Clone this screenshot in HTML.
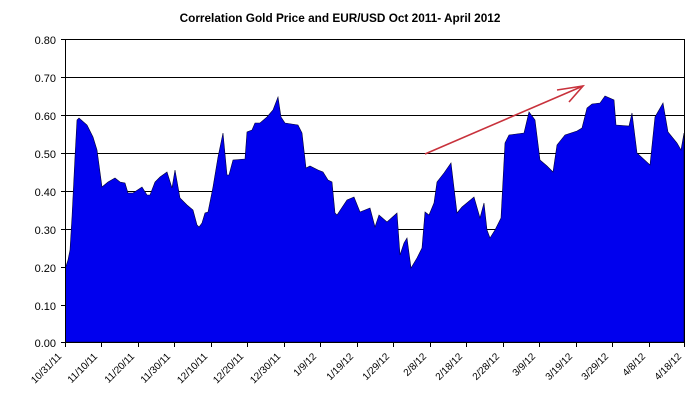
<!DOCTYPE html>
<html><head><style>body{margin:0;background:#fff}svg{display:block}text{font-family:"Liberation Sans",sans-serif;fill:#000}</style></head>
<body>
<svg width="697" height="418" viewBox="0 0 697 418" xmlns="http://www.w3.org/2000/svg">
<text x="340" y="22" font-size="11.8" font-weight="bold" text-anchor="middle">Correlation Gold Price and EUR/USD Oct 2011- April 2012</text>
<g stroke="#000" stroke-width="1">
<line x1="65" y1="39.5" x2="685" y2="39.5"/>
<line x1="65" y1="77.5" x2="685" y2="77.5"/>
<line x1="65" y1="115.5" x2="685" y2="115.5"/>
<line x1="65" y1="153.5" x2="685" y2="153.5"/>
<line x1="65" y1="191.5" x2="685" y2="191.5"/>
<line x1="65" y1="229.5" x2="685" y2="229.5"/>
<line x1="65" y1="267.5" x2="685" y2="267.5"/>
<line x1="65" y1="305.5" x2="685" y2="305.5"/>
</g>
<polygon fill="#0000ee" stroke="#000033" stroke-width="0.6" points="65.7,342 65.7,267 68,260 70,250 72,217 73,197 75,157 77,120 79,118 87,125 93,137 97,150 102,187 108,182 115,178 120,182 125,183 128,193 133,193 142,187 147,195 150,195 155,182 160,177 167,172 172,188 175,170 180,198 187,205 193,210 197,225 199,227 202,223 205,213 208,212 213,187 218,157 223,133 227,175 229,175 233,160 245,159 247,132 252,130 255,123 260,123 267,117 273,110 278,97 281,117 285,123 298,125 302,133 306,168 310,166 318,170 323,172 328,180 332,182 335,213 337,215 347,200 354,197 360,212 370,208 375,227 379,215 387,222 397,213 400,255 404,243 407,238 411,268 417,258 422,248 425,212 429,215 434,203 437,182 444,173 451,163 457,213 462,207 474,197 480,218 484,203 487,230 490,238 495,230 501,218 505,143 509,135 524,133 529,112 535,120 540,160 547,166 553,172 557,145 565,135 577,131 582,128 587,108 592,104 600,103 605,96 614,100 616,125 629,126 632,113 637,153 650,165 655,117 663,103 668,132 677,143 681,150 684,133 684,150 684,342"/>
<g stroke="#000" stroke-width="1">
<line x1="65.5" y1="39" x2="65.5" y2="343"/>
<line x1="684.5" y1="39" x2="684.5" y2="343"/>
<line x1="61" y1="342.5" x2="685" y2="342.5"/>
<line x1="61" y1="39.5" x2="65" y2="39.5"/><line x1="61" y1="77.5" x2="65" y2="77.5"/><line x1="61" y1="115.5" x2="65" y2="115.5"/><line x1="61" y1="153.5" x2="65" y2="153.5"/><line x1="61" y1="191.5" x2="65" y2="191.5"/><line x1="61" y1="229.5" x2="65" y2="229.5"/><line x1="61" y1="267.5" x2="65" y2="267.5"/><line x1="61" y1="305.5" x2="65" y2="305.5"/>
</g>
<g font-size="11" text-anchor="end">
<text x="56" y="44">0.80</text><text x="56" y="82">0.70</text><text x="56" y="120">0.60</text><text x="56" y="158">0.50</text><text x="56" y="196">0.40</text><text x="56" y="234">0.30</text><text x="56" y="272">0.20</text><text x="56" y="310">0.10</text><text x="56" y="347">0.00</text>
</g>
<g font-size="10" text-anchor="end">
<text transform="translate(62,357) rotate(-45)">10/31/11</text>
<text transform="translate(98,357) rotate(-45)">11/10/11</text>
<text transform="translate(135,357) rotate(-45)">11/20/11</text>
<text transform="translate(171,357) rotate(-45)">11/30/11</text>
<text transform="translate(208,357) rotate(-45)">12/10/11</text>
<text transform="translate(244,357) rotate(-45)">12/20/11</text>
<text transform="translate(281,357) rotate(-45)">12/30/11</text>
<text transform="translate(317,357) rotate(-45)">1/9/12</text>
<text transform="translate(354,357) rotate(-45)">1/19/12</text>
<text transform="translate(390,357) rotate(-45)">1/29/12</text>
<text transform="translate(427,357) rotate(-45)">2/8/12</text>
<text transform="translate(463,357) rotate(-45)">2/18/12</text>
<text transform="translate(500,357) rotate(-45)">2/28/12</text>
<text transform="translate(536,357) rotate(-45)">3/9/12</text>
<text transform="translate(573,357) rotate(-45)">3/19/12</text>
<text transform="translate(609,357) rotate(-45)">3/29/12</text>
<text transform="translate(646,357) rotate(-45)">4/8/12</text>
<text transform="translate(682,357) rotate(-45)">4/18/12</text>
</g>
<g stroke="#000">
<line x1="101.5" y1="342" x2="101.5" y2="347"/><line x1="138.5" y1="342" x2="138.5" y2="347"/><line x1="174.5" y1="342" x2="174.5" y2="347"/><line x1="211.5" y1="342" x2="211.5" y2="347"/><line x1="247.5" y1="342" x2="247.5" y2="347"/><line x1="284.5" y1="342" x2="284.5" y2="347"/><line x1="320.5" y1="342" x2="320.5" y2="347"/><line x1="357.5" y1="342" x2="357.5" y2="347"/><line x1="393.5" y1="342" x2="393.5" y2="347"/><line x1="430.5" y1="342" x2="430.5" y2="347"/><line x1="466.5" y1="342" x2="466.5" y2="347"/><line x1="503.5" y1="342" x2="503.5" y2="347"/><line x1="539.5" y1="342" x2="539.5" y2="347"/><line x1="576.5" y1="342" x2="576.5" y2="347"/><line x1="612.5" y1="342" x2="612.5" y2="347"/><line x1="649.5" y1="342" x2="649.5" y2="347"/><line x1="65.5" y1="342" x2="65.5" y2="347"/><line x1="684.5" y1="342" x2="684.5" y2="347"/>
</g>
<g stroke="#c8323c" stroke-width="1.6" fill="none">
<line x1="425" y1="154" x2="583" y2="86"/>
<polyline points="557,90 583,86 569,102"/>
</g>
</svg>
</body></html>
